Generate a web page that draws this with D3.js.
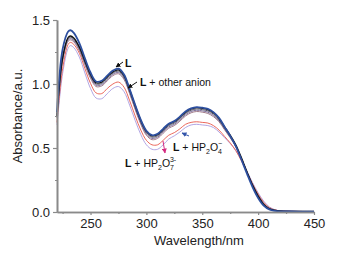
<!DOCTYPE html>
<html><head><meta charset="utf-8">
<script src="https://cdn.jsdelivr.net/npm/d3@7"></script>
<style>body{margin:0;background:#fff}svg{display:block}</style>
</head><body>
<script>
const wavelengths = [220,225,230,232,235,240,245,250,255,260,265,270,275,280,285,290,295,300,305,310,315,320,325,330,335,340,345,350,355,360,365,370,375,380,385,390,395,400,405,410,415,420,430,440,450];
const seriesL      = [0.74,1.20,1.365,1.375,1.36,1.29,1.18,1.075,1.01,1.015,1.055,1.095,1.11,1.065,0.955,0.83,0.715,0.63,0.595,0.605,0.645,0.685,0.705,0.74,0.78,0.805,0.815,0.81,0.80,0.775,0.73,0.665,0.60,0.525,0.425,0.315,0.21,0.125,0.06,0.025,0.012,0.007,0.005,0.004,0.004];
const seriesBlue   = [0.78,1.27,1.41,1.42,1.40,1.32,1.20,1.09,1.02,1.025,1.065,1.105,1.12,1.075,0.96,0.835,0.72,0.635,0.60,0.61,0.65,0.69,0.71,0.745,0.785,0.81,0.82,0.815,0.805,0.78,0.735,0.665,0.595,0.515,0.41,0.30,0.195,0.11,0.05,0.02,0.009,0.005,0.004,0.003,0.003];
const seriesOther1 = [0.76,1.22,1.355,1.365,1.35,1.28,1.17,1.065,1.0,1.005,1.045,1.085,1.10,1.055,0.945,0.82,0.705,0.62,0.585,0.595,0.635,0.675,0.695,0.73,0.77,0.795,0.805,0.80,0.79,0.765,0.72,0.655,0.59,0.515,0.42,0.31,0.21,0.125,0.062,0.027,0.013,0.008,0.005,0.004,0.004];
const seriesOther2 = [0.75,1.19,1.345,1.355,1.34,1.27,1.16,1.055,0.99,0.995,1.035,1.075,1.09,1.045,0.935,0.81,0.695,0.61,0.575,0.585,0.625,0.665,0.685,0.72,0.76,0.785,0.795,0.79,0.78,0.755,0.712,0.648,0.585,0.512,0.418,0.31,0.21,0.127,0.064,0.028,0.014,0.008,0.005,0.004,0.004];
const seriesOther3 = [0.74,1.18,1.335,1.345,1.33,1.26,1.15,1.045,0.98,0.985,1.025,1.065,1.08,1.035,0.925,0.80,0.685,0.60,0.565,0.575,0.615,0.655,0.675,0.71,0.75,0.775,0.785,0.78,0.77,0.745,0.705,0.642,0.58,0.51,0.418,0.312,0.212,0.13,0.066,0.03,0.015,0.009,0.005,0.004,0.004];
const seriesHP2O7  = [0.70,1.12,1.31,1.325,1.31,1.24,1.12,1.005,0.93,0.925,0.965,1.0,1.015,0.975,0.87,0.75,0.64,0.56,0.525,0.525,0.56,0.60,0.62,0.65,0.685,0.70,0.705,0.70,0.695,0.675,0.64,0.59,0.54,0.48,0.40,0.31,0.22,0.14,0.075,0.035,0.016,0.009,0.005,0.004,0.004];
const seriesHP2O4  = [0.68,1.08,1.28,1.30,1.285,1.21,1.085,0.965,0.89,0.885,0.925,0.965,0.98,0.94,0.835,0.715,0.605,0.525,0.49,0.49,0.525,0.57,0.595,0.625,0.66,0.68,0.685,0.68,0.675,0.66,0.625,0.58,0.535,0.48,0.405,0.32,0.23,0.15,0.085,0.04,0.018,0.009,0.005,0.004,0.004];
const xTicks = [250,300,350,400,450];
const yTicks = [0.0,0.5,1.0,1.5];
const xMinor = [225,275,325,375,425];
const yMinor = [0.25,0.75,1.25];

const W = 341, H = 256;
const svg = d3.select("body").append("svg").attr("width", W).attr("height", H);
const x = d3.scaleLinear().domain([220,450]).range([57,314]);
const y = d3.scaleLinear().domain([0,1.5]).range([212,20]);
const font = "Liberation Sans, Arial, sans-serif";
const axisColor = "#8a8a8a";

const series = [
  {v: seriesHP2O4, c: "#a99ce0", w: 0.9},
  {v: seriesHP2O7, c: "#e9574a", w: 0.9},
  {v: seriesOther3, c: "#a07a88", w: 1},
  {v: seriesOther2, c: "#7d6f9c", w: 1},
  {v: seriesOther1, c: "#555566", w: 1},
  {v: seriesL, c: "#111111", w: 1.3},
  {v: seriesBlue, c: "#2d4f9f", w: 1.8}
];
const line = d3.line().x(d => x(d[0])).y(d => y(d[1])).curve(d3.curveCatmullRom.alpha(0.5));
series.forEach(s => {
  svg.append("path").datum(wavelengths.map((w,i) => [w, s.v[i]]))
    .attr("d", line).attr("fill","none").attr("stroke", s.c).attr("stroke-width", s.w);
});

// axes
const xAxis = svg.append("g").attr("transform","translate(0,212)")
  .call(d3.axisBottom(x).tickValues(xTicks).tickSize(3).tickSizeOuter(0).tickPadding(4).tickFormat(d3.format("d")));
const xAxisMinor = svg.append("g").attr("transform","translate(0,212)")
  .call(d3.axisBottom(x).tickValues(xMinor).tickSize(2).tickSizeOuter(0).tickFormat(""));
const yAxis = svg.append("g").attr("transform","translate(57,0)")
  .call(d3.axisLeft(y).tickValues(yTicks).tickSize(4).tickSizeOuter(0).tickPadding(3).tickFormat(d3.format(".1f")));
const yAxisMinor = svg.append("g").attr("transform","translate(57,0)")
  .call(d3.axisLeft(y).tickValues(yMinor).tickSize(2).tickSizeOuter(0).tickFormat(""));
[xAxis, xAxisMinor, yAxis, yAxisMinor].forEach(g => {
  g.selectAll("path.domain").attr("stroke", axisColor).attr("stroke-width", 1.6);
  g.selectAll(".tick line").attr("stroke", axisColor).attr("stroke-width", 1.2);
  g.selectAll("text").attr("fill","#222").attr("font-family", font).attr("font-size", 13);
});

svg.append("text").attr("x", 199).attr("y", 245).attr("text-anchor","middle")
  .attr("font-family", font).attr("font-size", 13).attr("fill","#222").text("Wavelength/nm");
svg.append("text").attr("transform","translate(22,116) rotate(-90)").attr("text-anchor","middle")
  .attr("font-family", font).attr("font-size", 13).attr("fill","#222").text("Absorbance/a.u.");

// arrows
const defs = svg.append("defs");
function marker(id, color){
  defs.append("marker").attr("id", id).attr("viewBox","0 0 10 10").attr("refX",9).attr("refY",5)
    .attr("markerWidth",5).attr("markerHeight",5).attr("orient","auto")
    .append("path").attr("d","M0,0L10,5L0,10z").attr("fill", color);
}
marker("mk","#111"); marker("mb","#3355aa"); marker("mm","#d42a80");
function arrow(x1,y1,x2,y2,color,m){
  svg.append("line").attr("x1",x1).attr("y1",y1).attr("x2",x2).attr("y2",y2)
    .attr("stroke",color).attr("stroke-width",1).attr("marker-end",`url(#${m})`);
}
arrow(123,62,116,67,"#111","mk");
arrow(137,82,128,88,"#111","mk");
arrow(189,136,182,133,"#3355aa","mb");
arrow(163,141,165,153,"#d42a80","mm");

function label(xp, yp){
  return svg.append("text").attr("x", xp).attr("y", yp).attr("font-family", font)
    .attr("font-size", 10.5).attr("fill","#111");
}
let t = label(125, 67); t.append("tspan").attr("font-weight","bold").text("L");
t = label(140, 86); t.append("tspan").attr("font-weight","bold").text("L"); t.append("tspan").text(" + other anion");
t = label(173, 151); t.append("tspan").attr("font-weight","bold").text("L"); t.append("tspan").text(" + HP");
t.append("tspan").attr("font-size",7).attr("dy",3).text("2");
t.append("tspan").attr("dy",-3).text("O");
t.append("tspan").attr("font-size",7).attr("dy",3).text("4");
t.append("tspan").attr("font-size",7).attr("dx",-4).attr("dy",-8).text("−");
t = label(125, 167); t.append("tspan").attr("font-weight","bold").text("L"); t.append("tspan").text(" + HP");
t.append("tspan").attr("font-size",7).attr("dy",3).text("2");
t.append("tspan").attr("dy",-3).text("O");
t.append("tspan").attr("font-size",7).attr("dy",3).text("7");
t.append("tspan").attr("font-size",7).attr("dx",-4).attr("dy",-8).text("3-");
</script>
</body></html>
